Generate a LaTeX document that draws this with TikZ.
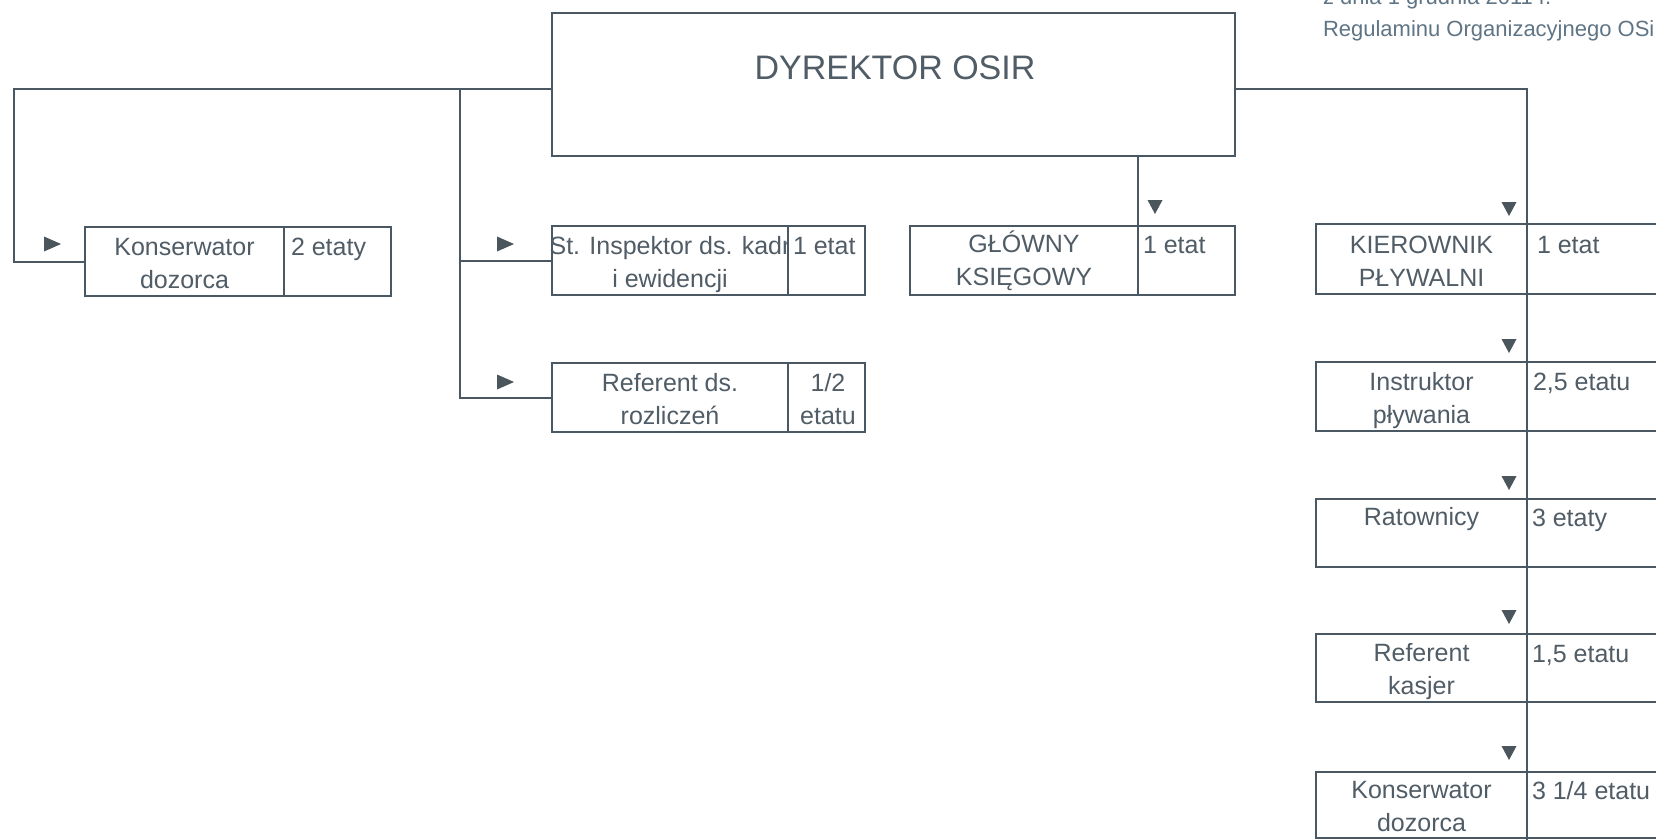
\documentclass[tikz,border=0pt]{standalone}
\usepackage{fontspec}
\setmainfont{Liberation Sans}
\usetikzlibrary{calc}
\definecolor{ln}{HTML}{4A5863}
\definecolor{tx}{HTML}{505C66}
\definecolor{hd}{HTML}{5F7585}
\definecolor{ar}{HTML}{4A555C}
\newcommand{\rtri}[1]{\fill[ar] #1 ++(-8,-7.5) -- ++(17,7.5) -- ++(-17,7.5) -- cycle;}
\newcommand{\dtri}[1]{\fill[ar] #1 ++(-7.5,-7) -- ++(15,0) -- ++(-7.5,14) -- cycle;}
\tikzset{
  cell/.style={draw=ln, fill=white, rectangle, inner sep=0pt, outer sep=0pt},
  lbl/.style={font=\fontsize{25}{33}\selectfont, text=tx, inner sep=0pt, align=center, anchor=base},
  et/.style={font=\fontsize{25}{33}\selectfont, text=tx, inner sep=0pt, anchor=base west},
  hdr/.style={font=\fontsize{22}{26}\selectfont, text=hd, inner sep=0pt, anchor=base west},
  conn/.style={draw=ln},
}
\begin{document}
\begin{tikzpicture}[x=1pt,y=-1pt,line width=2pt]
\useasboundingbox (0,0) rectangle (1656,839);
\fill[white] (0,0) rectangle (1656,839);

% header
\node[hdr] (h1) at (1322,4) {z dnia 1 grudnia 2011 r.};
\node[hdr] (h2) at (1322,36) {Regulaminu Organizacyjnego OSiR};

% director
\node[cell, minimum width=683pt, minimum height=143pt] (dir) at (893.5,84.5) {};
\node[font=\fontsize{34}{40}\selectfont, text=tx, inner sep=0pt, anchor=base] (dirt) at (895,79) {DYREKTOR OSIR};

% connector coordinates
\coordinate (cL) at (14,89);
\coordinate (cM) at (460,89);
\coordinate (cR) at (1527,89);
\coordinate (cRb) at (1527,845);

% left boxes
\node[cell, minimum width=199pt, minimum height=69pt] (k1L) at (184.5,261.5) {};
\node[cell, minimum width=236pt, minimum height=69pt] (insL) at (670,260.5) {};
\node[cell, minimum width=236pt, minimum height=69pt] (refL) at (670,397.5) {};
\node[cell, minimum width=228pt, minimum height=69pt] (glL) at (1024,260.5) {};

% connectors
\draw[conn] (dir.west |- cL) -- (cL) |- (k1L.west);
\draw[conn] (cM) |- (insL.west);
\draw[conn] (cM) |- (refL.west);
\draw[conn] (dir.east |- cR) -- (cR) -- (cRb);

% right column left cells
\node[cell, minimum width=211pt, minimum height=70pt] (kpL) at (1421.5,259) {};
\node[cell, minimum width=211pt, minimum height=69pt] (ipL) at (1421.5,396.5) {};
\node[cell, minimum width=211pt, minimum height=68pt] (raL) at (1421.5,533) {};
\node[cell, minimum width=211pt, minimum height=68pt] (rkL) at (1421.5,668) {};
\node[cell, minimum width=211pt, minimum height=66pt] (kdL) at (1421.5,805) {};

% left cell texts (base = baseline of the last line)
\node[lbl] at (184.5,288) {Konserwator\\dozorca};
\node[lbl] at (670,287) {St. Inspektor ds. kadr\\i ewidencji};
\node[lbl] at (670,424) {Referent ds.\\rozliczeń};
\node[lbl] at (1024,285) {GŁÓWNY\\KSIĘGOWY};
\node[lbl] at (1421.5,286) {KIEROWNIK\\PŁYWALNI};
\node[lbl] at (1421.5,423) {Instruktor\\pływania};
\node[lbl] at (1421.5,525) {Ratownicy};
\node[lbl] at (1421.5,694) {Referent\\kasjer};
\node[lbl] at (1421.5,831) {Konserwator\\dozorca};

% right cells
\node[cell, minimum width=107pt, minimum height=69pt] (k1R) at (337.5,261.5) {};
\node[cell, minimum width=77pt, minimum height=69pt] (insR) at (826.5,260.5) {};
\node[cell, minimum width=77pt, minimum height=69pt] (refR) at (826.5,397.5) {};
\node[cell, minimum width=97pt, minimum height=69pt] (glR) at (1186.5,260.5) {};
\node[cell, minimum width=153pt, minimum height=70pt] (kpR) at (1603.5,259) {};
\node[cell, minimum width=153pt, minimum height=69pt] (ipR) at (1603.5,396.5) {};
\node[cell, minimum width=153pt, minimum height=68pt] (raR) at (1603.5,533) {};
\node[cell, minimum width=153pt, minimum height=68pt] (rkR) at (1603.5,668) {};
\node[cell, minimum width=153pt, minimum height=66pt] (kdR) at (1603.5,805) {};

\draw[conn] (dir.south -| glR.west) -- (glR.north west);

% right cell texts
\node[et] at ($(k1R.north west)+(6,28)$) {2 etaty};
\node[et] at ($(insR.north west)+(4,28)$) {1 etat};
\node[lbl] at (828,424) {1/2\\etatu};
\node[et] at ($(glR.north west)+(4,27)$) {1 etat};
\node[et] at ($(kpR.north west)+(9,29)$) {1 etat};
\node[et] at ($(ipR.north west)+(5,28)$) {2,5 etatu};
\node[et] at ($(raR.north west)+(4,27)$) {3 etaty};
\node[et] at ($(rkR.north west)+(4,28)$) {1,5 etatu};
\node[et] at ($(kdR.north west)+(4,27)$) {3 1/4 etatu};

% arrowheads
\rtri{(52,244)}
\rtri{(505,244)}
\rtri{(505,382)}
\dtri{(1155,207)}
\dtri{(1509,209)}
\dtri{(1509,346)}
\dtri{(1509,483)}
\dtri{(1509,617)}
\dtri{(1509,753)}
\end{tikzpicture}
\end{document}
